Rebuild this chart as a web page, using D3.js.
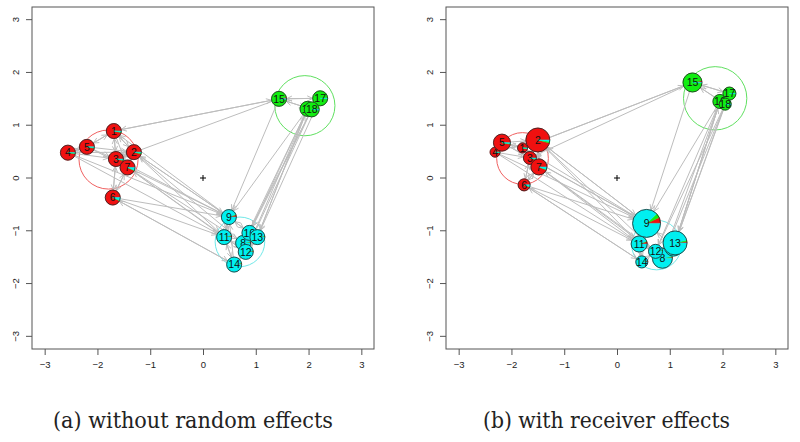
<!DOCTYPE html>
<html><head><meta charset="utf-8">
<script src="https://cdn.jsdelivr.net/npm/d3@7"></script>
<style>body{margin:0;background:#fff}svg{display:block}</style>
</head><body>
<svg id="chart" width="800" height="442"></svg>
<script>
// ---- data ----
const nodeIds = d3.range(1, 19);
const groupColors = ["#f01010", "#11ee11", "#00f0f0"]; // red, green, cyan (pie order)
const circleColors = ["#f06060", "#60e060", "#70e8e8"];
// panel (a): without random effects
const xA = [-1.69,-1.31,-1.65,-2.56,-2.20,-1.71,-1.43, 0.76,0.49,0.88,0.40,0.81,1.03,0.59, 1.44,1.98,2.22,2.06];
const yA = [ 0.89, 0.49, 0.36, 0.48, 0.59,-0.37, 0.20,-1.23,-0.74,-1.04,-1.12,-1.40,-1.12,-1.64, 1.50,1.31,1.51,1.30];
const sizeA = nodeIds.map(() => 0.142);
const clusterXA = [-1.79, 1.93, 0.70];
const clusterYA = [ 0.35, 1.37, -1.21];
const clusterRA = [ 0.56, 0.57, 0.47];
const probA = [
  [0.97,0.01,0.02],[0.96,0.02,0.02],[0.97,0.01,0.02],[0.98,0.01,0.01],[0.97,0.01,0.02],[0.93,0.01,0.06],[0.93,0.01,0.06],
  [0.02,0.01,0.97],[0.05,0.01,0.94],[0.02,0.01,0.97],[0.03,0.01,0.96],[0.02,0.01,0.97],[0.02,0.01,0.97],[0.03,0.01,0.96],
  [0.04,0.95,0.01],[0.01,0.97,0.02],[0.01,0.98,0.01],[0.01,0.97,0.02]
];
// panel (b): with receiver effects
const xB = [-1.79,-1.50,-1.65,-2.31,-2.18,-1.76,-1.48, 0.86,0.56,1.07,0.42,0.73,1.10,0.47, 1.43,1.95,2.13,2.05];
const yB = [ 0.57, 0.72, 0.38, 0.49, 0.67,-0.13, 0.21,-1.52,-0.86,-1.31,-1.25,-1.39,-1.23,-1.59, 1.81,1.45,1.60,1.40];
const sizeB = [0.095,0.227,0.123,0.095,0.161,0.114,0.152, 0.19,0.265,0.17,0.152,0.133,0.227,0.114, 0.18,0.133,0.123,0.114];
const clusterXB = [-1.79, 1.86, 0.75];
const clusterYB = [ 0.37, 1.51, -1.27];
const clusterRB = [ 0.49, 0.60, 0.47];
const probB = [
  [0.97,0.01,0.02],[0.96,0.02,0.02],[0.96,0.01,0.03],[0.98,0.01,0.01],[0.97,0.01,0.02],[0.94,0.01,0.05],[0.94,0.01,0.05],
  [0.02,0.01,0.97],[0.07,0.05,0.88],[0.02,0.01,0.97],[0.05,0.01,0.94],[0.02,0.01,0.97],[0.02,0.02,0.96],[0.03,0.01,0.96],
  [0.03,0.96,0.01],[0.01,0.97,0.02],[0.01,0.98,0.01],[0.01,0.97,0.02]
];
// directed ties (sender -> receiver)
const edgeFrom = [1,1,1,1,1, 2,2,2,2,2, 3,3,3,3, 4,4,4,4,4, 5,5,5,5,5, 6,6,6,6,6, 7,7,7,7,7,
                  8,8,8,8, 9,9,9,9,9, 10,10,10,10, 11,11,11,11, 12,12,12,12, 13,13,13,13, 14,14,14,14,
                  15,15,15,15,15, 16,16,16,16,16,16,16, 17,17,17,17, 18,18,18,18,18];
const edgeTo   = [2,3,5,15,7, 1,3,7,9,11, 2,7,6,1, 5,3,2,9,11, 4,1,3,2,9, 3,7,9,11,14, 2,3,6,12,8,
                  10,12,13,2, 11,10,2,3,1, 13,8,12,9, 9,14,12,7, 8,10,11,13, 10,8,12,16, 11,12,9,6,
                  17,18,1,3,9, 18,17,8,10,13,9,12, 16,18,15,13, 16,15,10,12,8];
const tickValues = [-3,-2,-1,0,1,2,3];
const captions = ["(a) without random effects", "(b) with receiver effects"];

// ---- drawing ----
const SANS = "Liberation Sans, Arimo, Arial, Helvetica, sans-serif";
const SERIF = "DejaVu Serif, Liberation Serif, Times New Roman, serif";
const svg = d3.select("#chart");
const panels = [
  {x: xA, y: yA, size: sizeA, cx: clusterXA, cy: clusterYA, cr: clusterRA, prob: probA, left: 32, cap: captions[0], capX: 193, capW: 280},
  {x: xB, y: yB, size: sizeB, cx: clusterXB, cy: clusterYB, cr: clusterRB, prob: probB, left: 446, cap: captions[1], capX: 606.5, capW: 247}
];

panels.forEach(p => {
  const sx = d3.scaleLinear().domain([-3.24, 3.24]).range([p.left, p.left + 342]);
  const sy = d3.scaleLinear().domain([-3.24, 3.24]).range([349, 7]);
  const unit = sx(1) - sx(0);
  const g = svg.append("g");
  const fmt = d => d < 0 ? "\u2212" + (-d) : String(d);

  // axes
  const ax = g.append("g").attr("transform", "translate(0,349)")
    .call(d3.axisBottom(sx).tickValues(tickValues).tickSize(6).tickPadding(6).tickFormat(fmt));
  const ay = g.append("g").attr("transform", `translate(${p.left},0)`)
    .call(d3.axisLeft(sy).tickValues(tickValues).tickSize(6).tickPadding(5).tickFormat(fmt));
  [ax, ay].forEach(a => {
    a.attr("font-family", SANS).attr("font-size", 9.5);
    a.select(".domain").remove();
    a.selectAll("line").attr("stroke", "#555").attr("stroke-width", 1);
    a.selectAll("text").attr("fill", "#222");
  });
  ay.selectAll(".tick").attr("transform", null);
  ay.selectAll(".tick line").attr("y1", d => sy(d)).attr("y2", d => sy(d));
  ay.selectAll("text").attr("x", -16).attr("y", d => sy(d)).attr("dy", "0.35em").attr("text-anchor", "middle")
    .attr("transform", d => `rotate(-90, -16, ${sy(d)})`);
  g.append("rect").attr("x", p.left).attr("y", 7).attr("width", 342).attr("height", 342)
    .attr("fill", "none").attr("stroke", "#555").attr("stroke-width", 1);

  // cluster circles
  g.selectAll(".clus").data([0,1,2]).join("circle")
    .attr("cx", i => sx(p.cx[i])).attr("cy", i => sy(p.cy[i])).attr("r", i => p.cr[i] * unit)
    .attr("fill", "none").attr("stroke", i => circleColors[i]).attr("stroke-width", 1);

  // origin marker
  g.append("path").attr("d", `M${sx(0)-3},${sy(0)}h6M${sx(0)},${sy(0)-3}v6`).attr("stroke", "#000").attr("stroke-width", 1);

  // edges
  const eg = g.append("g");
  edgeFrom.forEach((f, k) => {
    const t = edgeTo[k];
    const x1 = sx(p.x[f-1]), y1 = sy(p.y[f-1]), x2 = sx(p.x[t-1]), y2 = sy(p.y[t-1]);
    const dx = x2 - x1, dy = y2 - y1, L = Math.hypot(dx, dy);
    if (L < 1) return;
    const ux = dx / L, uy = dy / L;
    const rs = p.size[f-1] * unit, rt = p.size[t-1] * unit;
    const ax1 = x1 + ux * rs, ay1 = y1 + uy * rs, ax2 = x2 - ux * rt, ay2 = y2 - uy * rt;
    const hl = 6, ang = Math.PI / 7;
    const a = Math.atan2(ay2 - ay1, ax2 - ax1);
    const b1x = ax2 - hl * Math.cos(a - ang), b1y = ay2 - hl * Math.sin(a - ang);
    const b2x = ax2 - hl * Math.cos(a + ang), b2y = ay2 - hl * Math.sin(a + ang);
    eg.append("path")
      .attr("d", `M${ax1},${ay1}L${ax2},${ay2}M${b1x},${b1y}L${ax2},${ay2}L${b2x},${b2y}`)
      .attr("fill", "none").attr("stroke", "#bdbdbd").attr("stroke-width", 1);
  });

  // nodes as pies (R-style: start east, counter-clockwise)
  const pie = d3.pie().sort(null).value(d => d);
  nodeIds.forEach((id, i) => {
    const cx = sx(p.x[i]), cy = sy(p.y[i]), r = p.size[i] * unit;
    const ng = g.append("g").attr("transform", `translate(${cx},${cy})`);
    const arcs = pie(p.prob[i]);
    const arc = d3.arc().innerRadius(0).outerRadius(r);
    arcs.forEach((s, j) => {
      const a0 = Math.PI / 2 - s.startAngle, a1 = Math.PI / 2 - s.endAngle;
      ng.append("path").attr("d", arc({startAngle: a1, endAngle: a0}))
        .attr("fill", groupColors[j]).attr("stroke", groupColors[j]).attr("stroke-width", 0.5);
    });
    ng.append("circle").attr("r", r).attr("fill", "none").attr("stroke", "#222").attr("stroke-width", 0.8);
    ng.append("text").text(id).attr("font-family", SANS).attr("font-size", 10.5)
      .attr("text-anchor", "middle").attr("dy", "0.36em").attr("fill", "#111");
  });

  // caption
  svg.append("text").text(p.cap).attr("font-family", SERIF).attr("font-size", 22)
    .attr("x", p.capX).attr("y", 428).attr("text-anchor", "middle")
    .attr("textLength", p.capW).attr("lengthAdjust", "spacingAndGlyphs").attr("fill", "#222");
});
</script>
</body></html>
